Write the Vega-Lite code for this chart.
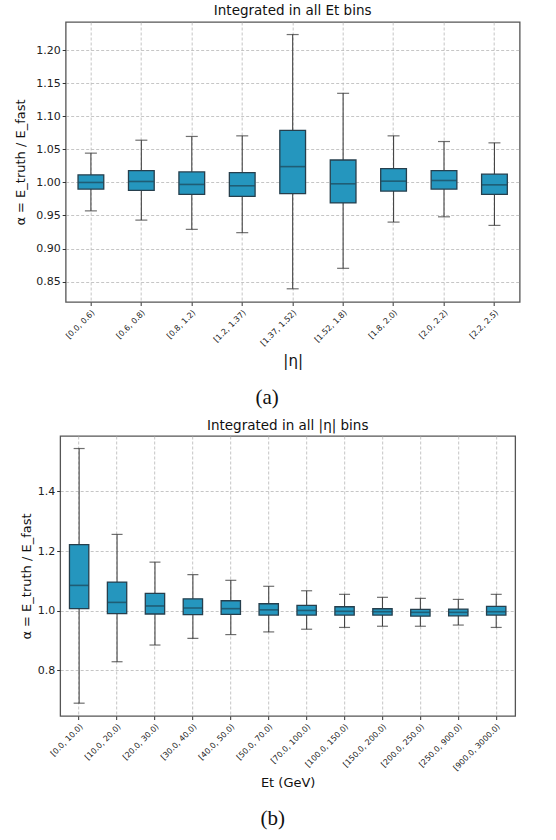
{
  "$schema": "https://vega.github.io/schema/vega-lite/v6.json",
  "padding": {"left": 14, "top": 2, "right": 5, "bottom": 5},
  "datasets": {
    "eta": [
      {"bin": "[0.0, 0.6)", "lower": 0.957, "q1": 0.990, "median": 1.000, "q3": 1.0115, "upper": 1.0444},
      {"bin": "[0.6, 0.8)", "lower": 0.943, "q1": 0.988, "median": 1.0015, "q3": 1.018, "upper": 1.064},
      {"bin": "[0.8, 1.2)", "lower": 0.929, "q1": 0.982, "median": 0.997, "q3": 1.016, "upper": 1.0697},
      {"bin": "[1.2, 1.37)", "lower": 0.924, "q1": 0.979, "median": 0.995, "q3": 1.015, "upper": 1.0706},
      {"bin": "[1.37, 1.52)", "lower": 0.839, "q1": 0.983, "median": 1.024, "q3": 1.079, "upper": 1.224},
      {"bin": "[1.52, 1.8)", "lower": 0.870, "q1": 0.969, "median": 0.998, "q3": 1.034, "upper": 1.135},
      {"bin": "[1.8, 2.0)", "lower": 0.940, "q1": 0.987, "median": 1.002, "q3": 1.021, "upper": 1.0706},
      {"bin": "[2.0, 2.2)", "lower": 0.948, "q1": 0.990, "median": 1.003, "q3": 1.018, "upper": 1.062},
      {"bin": "[2.2, 2.5)", "lower": 0.935, "q1": 0.982, "median": 0.9964, "q3": 1.0126, "upper": 1.060}
    ],
    "et": [
      {"bin": "[0.0, 10.0)", "lower": 0.690, "q1": 1.007, "median": 1.085, "q3": 1.222, "upper": 1.544},
      {"bin": "[10.0, 20.0)", "lower": 0.829, "q1": 0.990, "median": 1.028, "q3": 1.096, "upper": 1.256},
      {"bin": "[20.0, 30.0)", "lower": 0.885, "q1": 0.989, "median": 1.016, "q3": 1.058, "upper": 1.163},
      {"bin": "[30.0, 40.0)", "lower": 0.907, "q1": 0.987, "median": 1.009, "q3": 1.040, "upper": 1.121},
      {"bin": "[40.0, 50.0)", "lower": 0.920, "q1": 0.988, "median": 1.007, "q3": 1.0335, "upper": 1.102},
      {"bin": "[50.0, 70.0)", "lower": 0.929, "q1": 0.9856, "median": 1.003, "q3": 1.0235, "upper": 1.082},
      {"bin": "[70.0, 100.0)", "lower": 0.938, "q1": 0.9856, "median": 1.001, "q3": 1.018, "upper": 1.067},
      {"bin": "[100.0, 150.0)", "lower": 0.944, "q1": 0.9856, "median": 0.998, "q3": 1.0134, "upper": 1.055},
      {"bin": "[150.0, 200.0)", "lower": 0.948, "q1": 0.9856, "median": 0.9967, "q3": 1.0067, "upper": 1.045},
      {"bin": "[200.0, 250.0)", "lower": 0.948, "q1": 0.982, "median": 0.9946, "q3": 1.0047, "upper": 1.0415},
      {"bin": "[250.0, 900.0)", "lower": 0.952, "q1": 0.983, "median": 0.9946, "q3": 1.0057, "upper": 1.038},
      {"bin": "[900.0, 3000.0)", "lower": 0.944, "q1": 0.9856, "median": 0.9967, "q3": 1.0147, "upper": 1.055}
    ]
  },
  "spacing": 8,
  "columns": 1,
  "center": true,
  "concat": [
    {
      "title": {"text": "(a)", "orient": "bottom", "font": "Liberation Serif", "fontSize": 21, "fontWeight": "normal", "color": "#111", "offset": 18, "anchor": "middle"},
      "vconcat": [
        {
          "title": {"text": "Integrated in all Et bins", "offset": 5},
          "width": 454,
          "height": 280,
          "data": {"name": "eta"},
          "encoding": {
            "x": {"field": "bin", "type": "nominal", "sort": null, "title": "|η|",
                  "scale": {"paddingInner": 0, "paddingOuter": 0},
                  "axis": {"labelAngle": -45, "labelFontSize": 8, "titleFontSize": 15, "titlePadding": 6, "labelPadding": 3}}
          },
          "layer": [
            {"mark": {"type": "rule", "color": "#444", "strokeWidth": 1.1},
             "encoding": {
               "y": {"field": "lower", "type": "quantitative", "title": "α = E_truth / E_fast",
                     "scale": {"domain": [0.819, 1.243], "nice": false, "zero": false},
                     "axis": {"values": [0.85, 0.9, 0.95, 1.0, 1.05, 1.1, 1.15, 1.2], "format": ".2f", "labelOverlap": false, "labelFlush": false, "minExtent": 34, "maxExtent": 34, "titlePadding": 4}},
               "y2": {"field": "upper"}}},
            {"mark": {"type": "bar", "color": "#2596be", "stroke": "#263f4d", "strokeWidth": 1.3, "width": {"band": 0.51}},
             "encoding": {
               "y": {"field": "q1", "type": "quantitative", "title": "α = E_truth / E_fast",
                     "scale": {"domain": [0.819, 1.243], "nice": false, "zero": false},
                     "axis": {"values": [0.85, 0.9, 0.95, 1.0, 1.05, 1.1, 1.15, 1.2], "format": ".2f", "labelOverlap": false, "labelFlush": false, "minExtent": 34, "maxExtent": 34, "titlePadding": 4}},
               "y2": {"field": "q3"}}},
            {"mark": {"type": "tick", "color": "#1d4456", "thickness": 1.6, "size": 25},
             "encoding": {"y": {"field": "median", "type": "quantitative", "title": "α = E_truth / E_fast",
                     "scale": {"domain": [0.819, 1.243], "nice": false, "zero": false},
                     "axis": {"values": [0.85, 0.9, 0.95, 1.0, 1.05, 1.1, 1.15, 1.2], "format": ".2f", "labelOverlap": false, "labelFlush": false, "minExtent": 34, "maxExtent": 34, "titlePadding": 4}}}},
            {"mark": {"type": "tick", "color": "#333", "thickness": 1.2, "size": 12},
             "encoding": {"y": {"field": "lower", "type": "quantitative", "title": "α = E_truth / E_fast",
                     "scale": {"domain": [0.819, 1.243], "nice": false, "zero": false},
                     "axis": {"values": [0.85, 0.9, 0.95, 1.0, 1.05, 1.1, 1.15, 1.2], "format": ".2f", "labelOverlap": false, "labelFlush": false, "minExtent": 34, "maxExtent": 34, "titlePadding": 4}}}},
            {"mark": {"type": "tick", "color": "#333", "thickness": 1.2, "size": 12},
             "encoding": {"y": {"field": "upper", "type": "quantitative", "title": "α = E_truth / E_fast",
                     "scale": {"domain": [0.819, 1.243], "nice": false, "zero": false},
                     "axis": {"values": [0.85, 0.9, 0.95, 1.0, 1.05, 1.1, 1.15, 1.2], "format": ".2f", "labelOverlap": false, "labelFlush": false, "minExtent": 34, "maxExtent": 34, "titlePadding": 4}}}}
          ]
        }
      ]
    },
    {
      "title": {"text": "(b)", "orient": "bottom", "font": "Liberation Serif", "fontSize": 21, "fontWeight": "normal", "color": "#111", "offset": 18, "anchor": "middle"},
      "vconcat": [
        {
          "title": {"text": "Integrated in all |η| bins", "offset": 4},
          "width": 455,
          "height": 280,
          "data": {"name": "et"},
          "encoding": {
            "x": {"field": "bin", "type": "nominal", "sort": null, "title": "Et (GeV)",
                  "scale": {"paddingInner": 0, "paddingOuter": 0},
                  "axis": {"labelAngle": -45, "labelFontSize": 8, "titleFontSize": 13, "titlePadding": 4, "labelPadding": 3}}
          },
          "resolve": {"axis": {"y": "independent"}},
          "layer": [
            {
              "layer": [
                {"mark": {"type": "rule", "color": "#444", "strokeWidth": 1.1},
                 "encoding": {
                   "y": {"field": "lower", "type": "quantitative", "title": "α = E_truth / E_fast",
                         "scale": {"domain": [0.647, 1.586], "nice": false, "zero": false},
                         "axis": {"values": [0.8, 1.0, 1.2, 1.4], "format": ".1f", "labelOverlap": false, "labelFlush": false, "minExtent": 23, "maxExtent": 23, "titlePadding": 4}},
                   "y2": {"field": "upper"}}},
                {"mark": {"type": "bar", "color": "#2596be", "stroke": "#263f4d", "strokeWidth": 1.3, "width": {"band": 0.51}},
                 "encoding": {
                   "y": {"field": "q1", "type": "quantitative", "title": "α = E_truth / E_fast",
                         "scale": {"domain": [0.647, 1.586], "nice": false, "zero": false},
                         "axis": {"values": [0.8, 1.0, 1.2, 1.4], "format": ".1f", "labelOverlap": false, "labelFlush": false, "minExtent": 23, "maxExtent": 23, "titlePadding": 4}},
                   "y2": {"field": "q3"}}},
                {"mark": {"type": "tick", "color": "#1d4456", "thickness": 1.6, "size": 19},
                 "encoding": {"y": {"field": "median", "type": "quantitative", "title": "α = E_truth / E_fast",
                         "scale": {"domain": [0.647, 1.586], "nice": false, "zero": false},
                         "axis": {"values": [0.8, 1.0, 1.2, 1.4], "format": ".1f", "labelOverlap": false, "labelFlush": false, "minExtent": 23, "maxExtent": 23, "titlePadding": 4}}}},
                {"mark": {"type": "tick", "color": "#333", "thickness": 1.2, "size": 11},
                 "encoding": {"y": {"field": "lower", "type": "quantitative", "title": "α = E_truth / E_fast",
                         "scale": {"domain": [0.647, 1.586], "nice": false, "zero": false},
                         "axis": {"values": [0.8, 1.0, 1.2, 1.4], "format": ".1f", "labelOverlap": false, "labelFlush": false, "minExtent": 23, "maxExtent": 23, "titlePadding": 4}}}},
                {"mark": {"type": "tick", "color": "#333", "thickness": 1.2, "size": 11},
                 "encoding": {"y": {"field": "upper", "type": "quantitative", "title": "α = E_truth / E_fast",
                         "scale": {"domain": [0.647, 1.586], "nice": false, "zero": false},
                         "axis": {"values": [0.8, 1.0, 1.2, 1.4], "format": ".1f", "labelOverlap": false, "labelFlush": false, "minExtent": 23, "maxExtent": 23, "titlePadding": 4}}}}
              ]
            },
            {"mark": {"type": "tick", "opacity": 0, "size": 1},
             "encoding": {"y": {"field": "median", "type": "quantitative", "title": null,
                     "scale": {"domain": [0.647, 1.586], "nice": false, "zero": false},
                     "axis": {"orient": "right", "labels": false, "ticks": false, "grid": false, "domain": false, "title": null, "minExtent": 10, "maxExtent": 10}}}}
          ]
        }
      ]
    }
  ],
  "config": {
    "font": "DejaVu Sans",
    "view": {"stroke": "#555", "strokeWidth": 1.3},
    "axis": {
      "domain": false,
      "grid": true,
      "gridColor": "#b8b8b8",
      "gridDash": [3, 2],
      "gridWidth": 0.8,
      "tickColor": "#333",
      "tickSize": 3.5,
      "labelColor": "#222",
      "labelFontSize": 11,
      "titleFontSize": 13,
      "titleFontWeight": "normal",
      "titleColor": "#111"
    },
    "axisY": {"labelOverlap": false},
    "title": {"fontSize": 13.5, "fontWeight": "normal", "color": "#111"}
  }
}
